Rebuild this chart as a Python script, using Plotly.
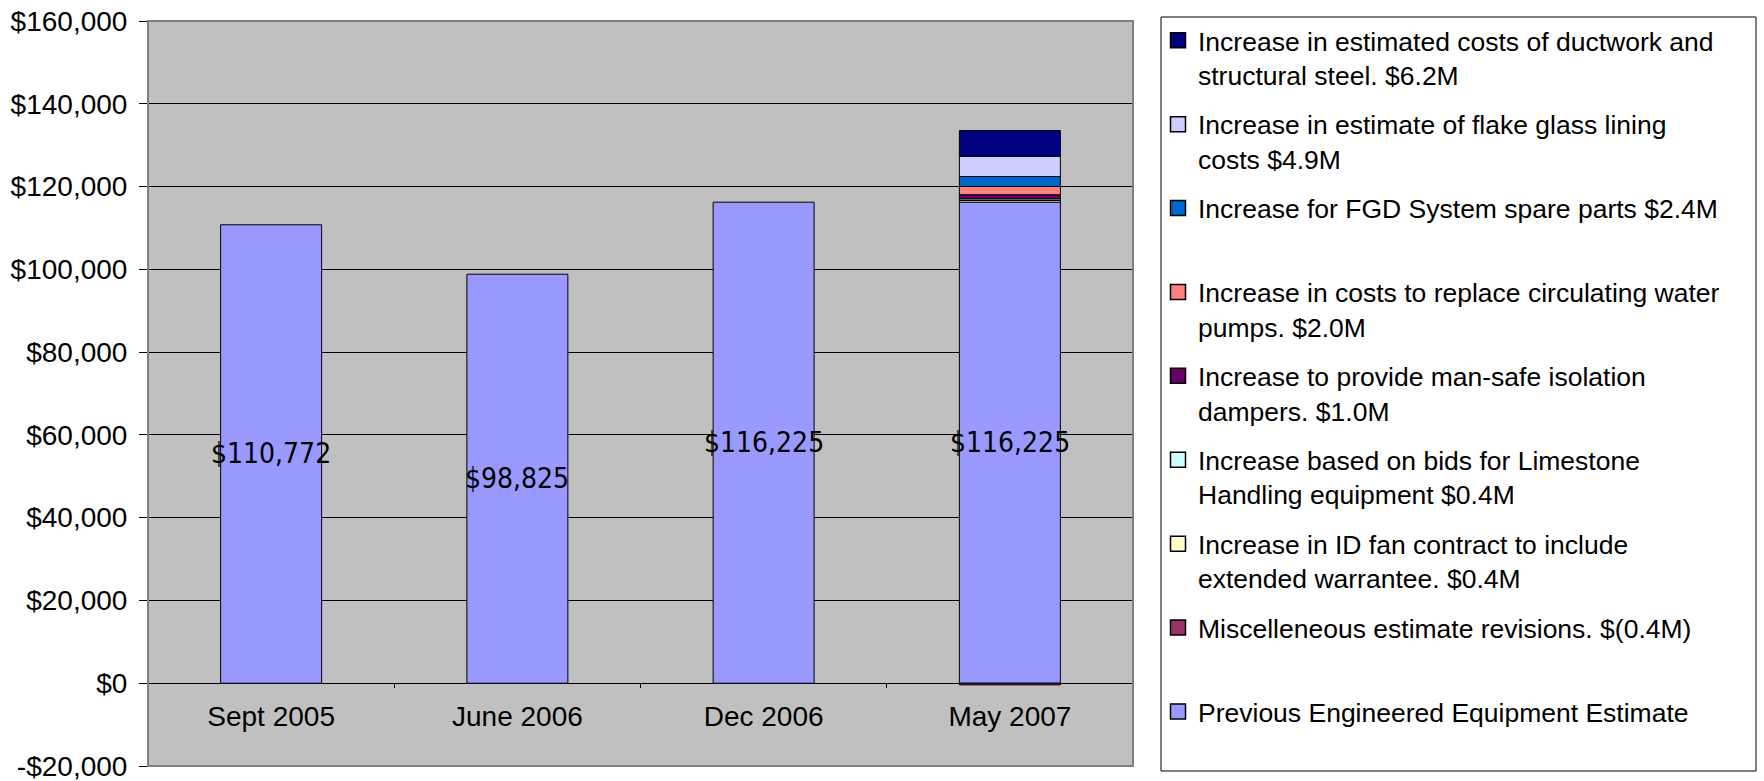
import plotly.graph_objects as go

# Engineered equipment estimate, in $000s
categories = ["Sept 2005", "June 2006", "Dec 2006", "May 2007"]
previous_estimate = [110772, 98825, 116225, 116225]
previous_name = "Previous Engineered Equipment Estimate"
previous_color = "#9999FF"

# Changes applied in the May 2007 estimate ($000s), stacked bottom to top
change_names = [
    "Miscelleneous estimate revisions. $(0.4M)",
    "Increase in ID fan contract to include<br>extended warrantee. $0.4M",
    "Increase based on bids for Limestone<br>Handling equipment $0.4M",
    "Increase to provide man-safe isolation<br>dampers. $1.0M",
    "Increase in costs to replace circulating water<br>pumps. $2.0M",
    "Increase for FGD System spare parts $2.4M",
    "Increase in estimate of flake glass lining<br>costs $4.9M",
    "Increase in estimated costs of ductwork and<br>structural steel. $6.2M",
]
change_values = [-400, 400, 400, 1000, 2000, 2400, 4900, 6200]
change_colors = ["#993366", "#FFFFCC", "#CCFFFF", "#660066",
                 "#FF8080", "#0066CC", "#CCCCFF", "#000080"]

y_ticks = list(range(-20000, 160001, 20000))
y_ticktext = [f"-${abs(v):,}" if v < 0 else f"${v:,}" for v in y_ticks]

W, H = 1764, 781
L, R, T, B = 148, 631, 21, 15
PW, PH = W - L - R, H - T - B
y_min, y_max = -20000, 160000
zero_pos = (0 - y_min) / (y_max - y_min)


def px_x(px):
    return (px - L) / PW


def px_y(py):
    return (H - B - py) / PH


fig = go.Figure()

# stacked bars
fig.add_trace(go.Bar(
    x=categories, y=previous_estimate, name=previous_name, showlegend=False,
    marker=dict(color=previous_color, line=dict(color="black", width=1)),
))
for name, val, col in zip(change_names, change_values, change_colors):
    fig.add_trace(go.Bar(
        x=[categories[-1]], y=[val], name=name, showlegend=False,
        marker=dict(color=col, line=dict(color="black", width=1)),
    ))


def legend_label(text):
    # every entry occupies two lines so the slots are evenly spaced
    return text if "<br>" in text else text + "<br>&nbsp;"


# legend keys: square swatches, listed from the top of the stack down
legend_items = [(previous_name, previous_color)] + list(zip(change_names, change_colors))
legend_items = legend_items[::-1]
for i, (name, col) in enumerate(legend_items):
    fig.add_trace(go.Scatter(
        x=[None], y=[None], mode="markers", name=legend_label(name),
        marker=dict(symbol="square", size=15, color=col, line=dict(color="black", width=1.5)),
        legendgroup=f"g{i}",
    ))

# value labels centred in the base bars
for cat, v in zip(categories, previous_estimate):
    fig.add_annotation(
        x=cat, y=v / 2, text=f"${v:,}", showarrow=False,
        font=dict(family="Liberation Sans Narrow, DejaVu Sans Condensed, Arial Narrow",
                  size=28, color="black"),
        xanchor="center", yanchor="middle",
    )

# grey frame around the plot area
fig.add_shape(type="rect", xref="paper", yref="paper", x0=0, x1=1, y0=0, y1=1,
              line=dict(color="#808080", width=2), layer="above")
# legend frame
fig.add_shape(type="rect", xref="paper", yref="paper",
              x0=px_x(1161), x1=px_x(1756), y0=px_y(771), y1=px_y(17),
              line=dict(color="black", width=1), fillcolor="white", layer="below")

fig.update_layout(
    width=W, height=H,
    margin=dict(l=L, r=R, t=T, b=B, pad=0, autoexpand=False),
    barmode="relative",
    bargap=0.59,
    paper_bgcolor="white",
    plot_bgcolor="#C0C0C0",
    font=dict(family="Liberation Sans, Arial, sans-serif", size=28, color="black"),
    showlegend=True,
    legend=dict(
        traceorder="grouped",
        x=px_x(1158), xanchor="left",
        y=px_y(16.5), yanchor="top",
        bgcolor="rgba(0,0,0,0)", borderwidth=0,
        font=dict(family="Liberation Sans, Arial, sans-serif", size=26.5, color="black"),
        valign="top",
        tracegroupgap=12,
        itemsizing="trace",
        maxheight=1.0,
    ),
    xaxis=dict(
        type="category", automargin=False,
        anchor="free", position=zero_pos,
        showline=False, showgrid=False, zeroline=False,
        ticks="outside", ticklen=4, tickcolor="black", tickson="boundaries",
        ticklabelstandoff=14,
        tickfont=dict(size=28),
    ),
    yaxis=dict(
        range=[y_min, y_max], automargin=False,
        tickvals=y_ticks, ticktext=y_ticktext,
        showgrid=True, gridcolor="black", gridwidth=1,
        zeroline=True, zerolinecolor="black", zerolinewidth=1,
        showline=True, linecolor="black", linewidth=1,
        ticks="outside", ticklen=8, tickcolor="black",
        ticklabelstandoff=6, ticklabeloverflow="allow",
        tickfont=dict(size=28),
    ),
)

fig.write_html("out.html")
